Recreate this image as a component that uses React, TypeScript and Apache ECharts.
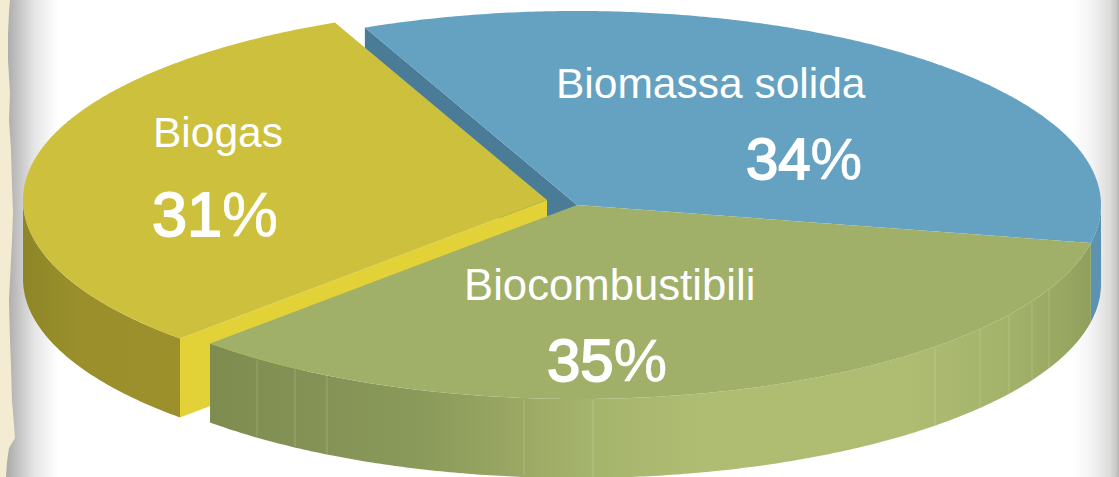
import React, { useEffect, useRef } from "react";
import * as echarts from "echarts";

const categories = ["Biocombustibili", "Biogas", "Biomassa solida"];
const shares = [35, 31, 34];

const WIDTH = 1119;
const HEIGHT = 477;
const CX = 577;
const CY = 205;
const RX = 524;
const RY = 194;
const WALL = 79;
const START_DEG = 9.5;
const SF = '"Liberation Sans", Arial, Helvetica, sans-serif';

// Drawing back to front; angles are clockwise on the screen, from the east.
const drawOrder = [2, 1, 0];
const offsets = [[0, 0], [-30, -5], [0, 0]];
const topColors = ["#a1b068", "#cdc03c", "#65a2c1"];
const cutColors = ["#a1b068", "#e3d237", "#4a7c98"];
const labelAt = [
  { name: [464, 284], nameSize: 43.7, pct: [547, 360], pctSize: 60 },
  { name: [153, 132], nameSize: 42.5, pct: [152, 214], pctSize: 63 },
  { name: [556, 83], nameSize: 42.5, pct: [746, 158], pctSize: 58 },
];
const seamXs = [257, 295, 327, 524, 593, 935, 980, 1009, 1032, 1049];

const total = shares.reduce((a, b) => a + b, 0);
// The drawing is in slight perspective, so a share's edge is nudged a little on the rim.
const perspective = (deg: number) => deg + 1.8 * Math.cos(((deg - 10) * Math.PI) / 180);
const arcs = shares.map((_, i) => {
  const before = shares.slice(0, i).reduce((a, b) => a + b, 0);
  return [
    perspective(START_DEG + (before / total) * 360),
    perspective(START_DEG + ((before + shares[i]) / total) * 360),
  ];
});

function onRim(deg: number, ox: number, oy: number, down = 0) {
  const t = (deg * Math.PI) / 180;
  return [CX + ox + RX * Math.cos(t), CY + oy + down + RY * Math.sin(t)];
}
function rimPoints(from: number, to: number, ox: number, oy: number, down = 0) {
  const n = Math.max(2, Math.ceil(Math.abs(to - from) * 2));
  const out: number[][] = [];
  for (let k = 0; k <= n; k++) out.push(onRim(from + ((to - from) * k) / n, ox, oy, down));
  return out;
}
function wallShape(from: number, to: number, ox: number, oy: number) {
  return [...rimPoints(from, to, ox, oy), ...rimPoints(to, from, ox, oy, WALL)];
}
const hGrad = (stops: [number, string][]) =>
  new echarts.graphic.LinearGradient(0, 0, 1, 0, stops.map(([offset, color]) => ({ offset, color })), false);

function renderSlice(_: any, api: any) {
  const i = api.value(0) as number;
  const [a0, a1] = arcs[i];
  const [ox, oy] = offsets[i];
  const apex = [CX + ox, CY + oy];
  const children: any[] = [];
  const tipStart = onRim(a0, ox, oy);

  if (i === 2) {
    // Biomassa: cut face on its leading edge and the short outer wall on the right.
    children.push({
      type: "polygon",
      shape: { points: [tipStart, apex, [apex[0], apex[1] + WALL], [tipStart[0], tipStart[1] + WALL]] },
      style: { fill: cutColors[i] },
    });
    children.push({
      type: "polygon",
      shape: { points: wallShape(360, a1, ox, oy) },
      style: { fill: "#5b93b0" },
    });
  }
  if (i === 1) {
    children.push({
      type: "polygon",
      shape: { points: wallShape(a0, 180, ox, oy) },
      style: { fill: hGrad([[0, "#8d8628"], [0.35, "#9a8f2b"], [1, "#9b902a"]]) },
    });
    children.push({
      type: "polygon",
      shape: { points: [tipStart, apex, [apex[0], apex[1] + WALL], [tipStart[0], tipStart[1] + WALL]] },
      style: { fill: cutColors[i] },
    });
  }
  if (i === 0) {
    children.push({
      type: "polygon",
      shape: { points: wallShape(a0, a1, ox, oy) },
      style: {
        fill: hGrad([
          [0, "#7e8c50"],
          [0.24, "#8a9a5a"],
          [0.35, "#9ba864"],
          [0.44, "#a6b56c"],
          [0.56, "#aebd72"],
          [0.79, "#aebd72"],
          [0.9, "#a3b36a"],
          [0.97, "#98a862"],
          [1, "#8f9f5c"],
        ]),
      },
    });
    seamXs.forEach((x) => {
      const t = Math.acos((x - CX) / RX);
      const y = CY + RY * Math.sin(t);
      children.push({
        type: "line",
        shape: { x1: x, y1: y + 1, x2: x, y2: y + WALL - 1 },
        style: { stroke: "rgba(255,255,255,0.2)", lineWidth: 1 },
      });
    });
  }
  // Top surface
  children.push({
    type: "polygon",
    shape: { points: [apex, ...rimPoints(a0, a1, ox, oy)] },
    style: { fill: topColors[i] },
  });

  const at = labelAt[i];
  children.push({
    type: "text",
    x: at.name[0],
    y: at.name[1],
    style: {
      text: categories[i],
      fill: "#ffffff",
      font: `400 ${at.nameSize}px ${SF}`,
      textAlign: "left",
      textVerticalAlign: "middle",
    },
  });
  children.push({
    type: "text",
    x: at.pct[0],
    y: at.pct[1],
    style: {
      text: `{n|${shares[i]}}{p|%}`,
      fill: "#ffffff",
      textAlign: "left",
      textVerticalAlign: "middle",
      rich: {
        n: { font: `400 ${at.pctSize}px ${SF}`, fill: "#ffffff", stroke: "#ffffff", lineWidth: 1.8 },
        p: { font: `400 ${at.pctSize}px ${SF}`, fill: "#ffffff", stroke: "#ffffff", lineWidth: 0.6 },
      },
    },
  });
  return { type: "group", children };
}

const tornLeft = [
  [10, 0], [9, 12], [8, 34], [8, 60], [10, 93], [9, 120], [11, 150], [12, 185], [13, 213],
  [12, 240], [9, 300], [10, 340], [11, 366], [12, 400], [14, 425], [15, 438], [9, 448], [7, 462], [6, 477],
];

export default function App() {
  const ref = useRef<HTMLDivElement>(null);
  useEffect(() => {
    document.body.style.margin = "0";
    const chart = echarts.init(ref.current!, null, { renderer: "svg" });
    chart.setOption({
      animation: false,
      backgroundColor: "#ffffff",
      graphic: [
        {
          type: "rect",
          z: -3,
          shape: { x: 6, y: 0, width: 52, height: HEIGHT },
          style: {
            fill: new echarts.graphic.LinearGradient(0, 0, 1, 0, [
              { offset: 0, color: "#a9aaa8" },
              { offset: 0.25, color: "#c4c5c4" },
              { offset: 0.55, color: "#e6e6e6" },
              { offset: 1, color: "#ffffff" },
            ]),
          },
        },
        {
          type: "rect",
          z: -3,
          shape: { x: 1072, y: 0, width: 47, height: HEIGHT },
          style: {
            fill: new echarts.graphic.LinearGradient(0, 0, 1, 0, [
              { offset: 0, color: "#ffffff" },
              { offset: 0.45, color: "#f2f2f2" },
              { offset: 0.8, color: "#dcdcdb" },
              { offset: 0.94, color: "#c8c8c6" },
              { offset: 1, color: "#b5b5b3" },
            ]),
          },
        },
        {
          type: "polygon",
          z: -2,
          shape: { points: [[0, 0], ...tornLeft, [0, HEIGHT]] },
          style: { fill: "#f3ecd3" },
        },
      ],
      series: [
        {
          type: "custom",
          coordinateSystem: "none",
          silent: true,
          clip: false,
          renderItem: renderSlice,
          data: drawOrder.map((i) => ({ name: categories[i], value: [i, shares[i]] })),
        },
      ],
    });
    return () => chart.dispose();
  }, []);
  return <div ref={ref} style={{ width: WIDTH, height: HEIGHT }} />;
}
